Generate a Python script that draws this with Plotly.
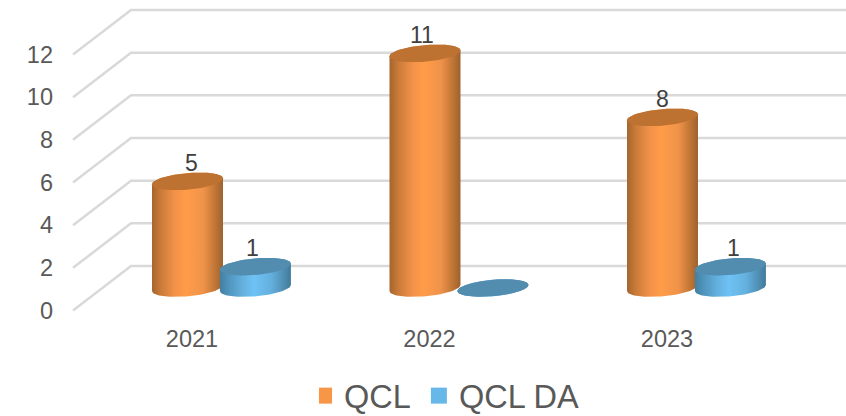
import numpy as np
import plotly.graph_objects as go

years = ["2021", "2022", "2023"]
qcl = [5, 11, 8]
qcl_da = [1, 0, 1]
y_ticks = [0, 2, 4, 6, 8, 10, 12]

# drawing geometry, in axis units
PX_X, PX_Y = 237.5, 21.33
BASE_Y = 1.055
DEPTH_X, DEPTH_Y = 58 / PX_X, 44.5 / PX_Y
HALF_W, HALF_H, TILT = 35.5 / PX_X, 8.3 / PX_Y, 3 / PX_Y
ORANGE_DX, BLUE_DX = -0.019, 0.267
LABEL_UP = 16.5 / PX_Y
LEFT, RIGHT = -0.501, 2.754

T_GRAD = [[0, "#a5652e"], [0.12, "#c97a38"], [0.32, "#f2924a"], [0.48, "#ff9c48"],
          [0.72, "#f0934a"], [0.9, "#bd7434"], [1, "#9c6130"]]
B_GRAD = [[0, "#447f9f"], [0.12, "#4f94bd"], [0.32, "#64b0de"], [0.48, "#6fc2f5"],
          [0.72, "#64b0de"], [0.9, "#4f8eb3"], [1, "#417a99"]]
T_TOP, B_TOP = "#bd7232", "#528cae"

fig = go.Figure()

# floor / wall gridlines
gx, gy = [], []
for v in y_ticks:
    gx += [LEFT, LEFT + DEPTH_X, RIGHT, None]
    gy += [v, v + DEPTH_Y, v + DEPTH_Y, None]
fig.add_trace(go.Scatter(x=gx, y=gy, mode="lines", showlegend=False, hoverinfo="skip",
                         line=dict(color="#d9d9d9", width=2.5)))


def ellipse(cx, cy, t):
    return cx + HALF_W * np.cos(t), cy + TILT * np.cos(t) + HALF_H * np.sin(t)


def cylinder(cx, value, grad, top):
    y_top = BASE_Y + value
    t_low = np.linspace(np.pi, 2 * np.pi, 40)
    bx, by = ellipse(cx, BASE_Y, t_low)
    t_up = np.linspace(0, np.pi, 40)
    ux, uy = ellipse(cx, y_top, t_up)
    fig.add_trace(go.Scatter(x=np.r_[bx, ux], y=np.r_[by, uy], mode="lines", fill="toself",
                             line=dict(width=0), showlegend=False, hoverinfo="skip",
                             fillgradient=dict(type="horizontal", colorscale=grad)))
    t = np.linspace(0, 2 * np.pi, 80)
    ex, ey = ellipse(cx, y_top, t)
    fig.add_trace(go.Scatter(x=ex, y=ey, mode="lines", fill="toself", fillcolor=top,
                             line=dict(width=0), showlegend=False, hoverinfo="skip"))


# value labels sit behind the cylinders
lx, ly, lt = [], [], []
label_nudge_a = [4 / PX_X, -3 / PX_X, 0]
label_nudge_b = [-3 / PX_X, 0, 3 / PX_X]
for i in range(len(years)):
    lx.append(i + ORANGE_DX + label_nudge_a[i]); ly.append(BASE_Y + qcl[i] + LABEL_UP); lt.append(str(qcl[i]))
    if qcl_da[i]:
        lx.append(i + BLUE_DX + label_nudge_b[i]); ly.append(BASE_Y + qcl_da[i] + LABEL_UP); lt.append(str(qcl_da[i]))
fig.add_trace(go.Scatter(x=lx, y=ly, text=lt, mode="text", showlegend=False, hoverinfo="skip",
                         textfont=dict(family="Liberation Sans", size=23, color="#404040")))

for i in range(len(years)):
    cylinder(i + ORANGE_DX, qcl[i], T_GRAD, T_TOP)
for i in range(len(years)):
    cylinder(i + BLUE_DX, qcl_da[i], B_GRAD, B_TOP)

# legend entries
for name, col in [("QCL\u00a0\u00a0", "#f79646"), ("QCL DA", "#67b7e8")]:
    fig.add_trace(go.Scatter(x=[None], y=[None], mode="markers", name=name,
                             marker=dict(symbol="square", size=17, color=col)))

fig.update_layout(
    width=846, height=416, autosize=False,
    margin=dict(l=60, r=0, t=0, b=0, autoexpand=False),
    paper_bgcolor="white", plot_bgcolor="white",
    font=dict(family="Liberation Sans", color="#595959"),
    xaxis=dict(range=[(60 - 192) / PX_X, (846 - 192) / PX_X], tickvals=[0, 1, 2], ticktext=years,
               showgrid=False, zeroline=False, showline=False, ticks="", tickfont=dict(size=23.5),
               fixedrange=True),
    yaxis=dict(domain=[(416 - 322) / 416, 1], range=[(310.5 - 322) / PX_Y, 310.5 / PX_Y], tickvals=y_ticks,
               showgrid=False, zeroline=False, showline=False, ticks="", ticklabelstandoff=6,
               tickfont=dict(size=23.5), fixedrange=True),
    legend=dict(orientation="h", x=(319 - 60) / 786, xanchor="left", y=(416 - 368) / 416, yanchor="top",
                font=dict(size=32.5, color="#595959"), bgcolor="rgba(0,0,0,0)",
                indentation=-15),
)
fig.write_html("out.html", config=dict(displayModeBar=False),
               post_script="document.body.style.margin='0';")
